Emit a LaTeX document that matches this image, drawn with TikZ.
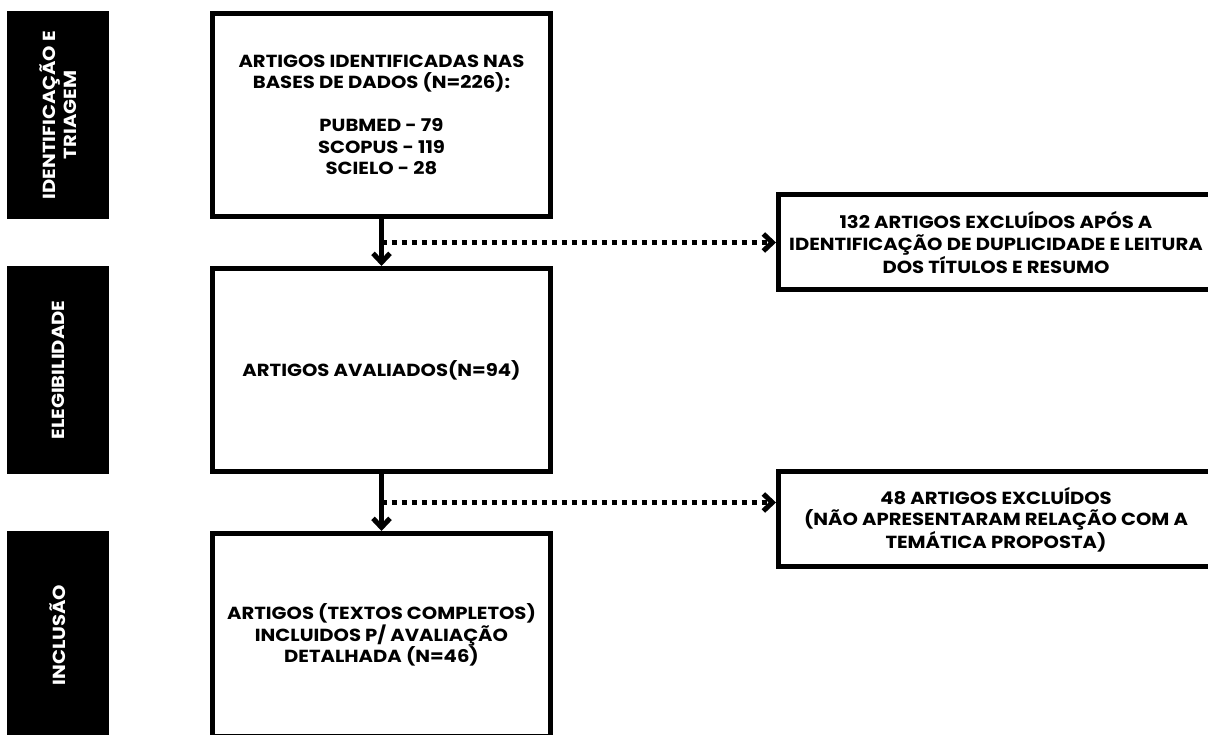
\documentclass[tikz,border=0pt]{standalone}
\usepackage{fontspec}
\setmainfont{Poppins}[FakeStretch=1.12]
\usetikzlibrary{arrows.meta,positioning,calc}
\tikzset{
  stagebar/.style={fill=black, text=white, align=center, inner sep=0pt,
    minimum width=208pt, minimum height=102pt, font=\bfseries\fontsize{17.5}{21}\selectfont},
  stepbox/.style={draw=black, line width=5pt, fill=white, align=center, inner sep=4pt,
    minimum width=338pt, minimum height=203pt, font=\bfseries\fontsize{17.5}{21.5}\selectfont},
  outbox/.style={stepbox, minimum width=435pt, minimum height=95pt},
  flowarr/.style={-{Straight Barb[length=9pt,width=17pt]}, line width=5pt},
  dotarr/.style={flowarr, dash pattern=on 5pt off 5pt},
}
\begin{document}
\begin{tikzpicture}[x=1pt,y=1pt]
  \useasboundingbox (0,0) rectangle (1208,735);
  \clip (0,0) rectangle (1208,735);
  % main column
  \node[stepbox] (b1) at (381.5,620) {ARTIGOS IDENTIFICADAS NAS\\ BASES DE DADOS (N=226):\\[21.5pt] PUBMED - 79\\ SCOPUS - 119\\ SCIELO - 28};
  \node[stepbox, below=47pt of b1] (b2) {ARTIGOS AVALIADOS(N=94)};
  \node[stepbox, below=57pt of b2] (b3) {ARTIGOS (TEXTOS COMPLETOS)\\ INCLUIDOS P/ AVALIAÇÃO\\ DETALHADA (N=46)};
  % stage bars
  \node[stagebar, rotate=90] (t1) at (58,0 |- b1) {IDENTIFICAÇÃO E\\ TRIAGEM};
  \node[stagebar, rotate=90] (t2) at (58,0 |- b2) {ELEGIBILIDADE};
  \node[stagebar, rotate=90] (t3) at (58,0 |- b3) {INCLUSÃO};
  % exclusions
  \coordinate (m1) at ($(b1.south)!0.5!(b2.north)$);
  \coordinate (m2) at ($(b2.south)!0.5!(b3.north)$);
  \node[outbox] (x1) at (996,0 |- m1) {132 ARTIGOS EXCLUÍDOS APÓS A\\ IDENTIFICAÇÃO DE DUPLICIDADE E LEITURA\\ DOS TÍTULOS E RESUMO};
  \node[outbox] (x2) at (996,215.5) {48 ARTIGOS EXCLUÍDOS\\ (NÃO APRESENTARAM RELAÇÃO COM A\\ TEMÁTICA PROPOSTA)};
  \draw[flowarr] (b1) -- (b2); \draw[flowarr] (b2) -- (b3);
  \draw[dotarr] (m1) -- (x1.west); \draw[dotarr] (m2) -- (m2 -| x2.west);
\end{tikzpicture}
\end{document}
